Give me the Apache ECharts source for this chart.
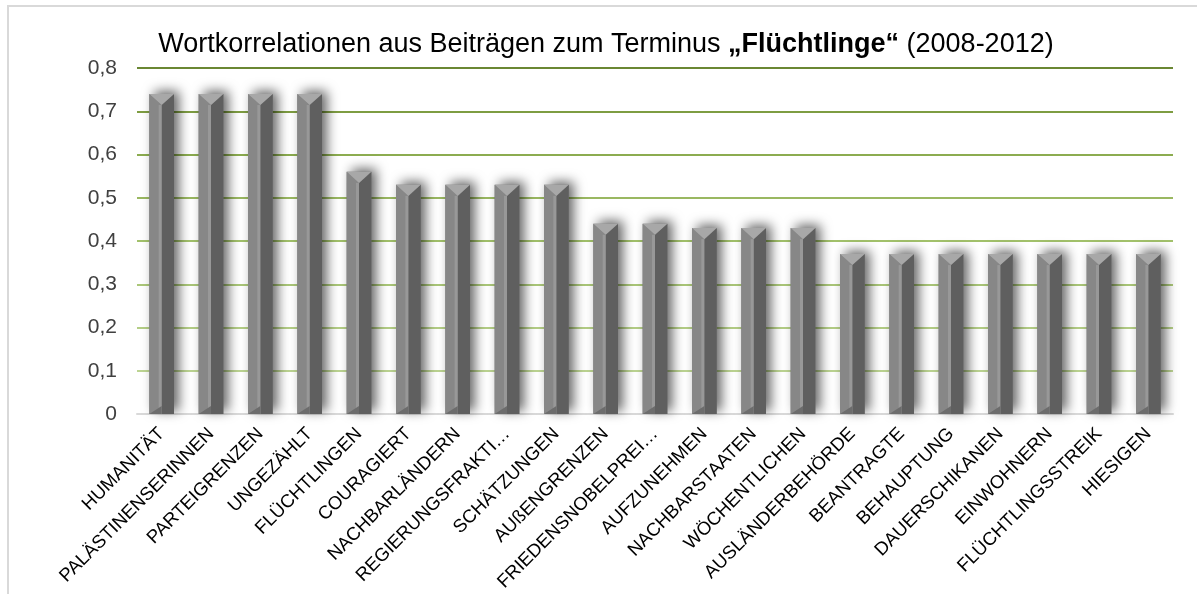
<!DOCTYPE html>
<html>
<head>
<meta charset="utf-8">
<script src="https://cdn.jsdelivr.net/npm/echarts@6/dist/echarts.min.js"></script>
<style>
  html, body { margin: 0; padding: 0; background: #fff; }
  #main { width: 1197px; height: 594px; }
</style>
</head>
<body>
<div id="main"></div>
<script>
// Begriffe (Kategorien)
var categories = [
  'HUMANITÄT', 'PALÄSTINENSERINNEN', 'PARTEIGRENZEN', 'UNGEZÄHLT', 'FLÜCHTLINGEN',
  'COURAGIERT', 'NACHBARLÄNDERN', 'REGIERUNGSFRAKTI…', 'SCHÄTZUNGEN', 'AUßENGRENZEN',
  'FRIEDENSNOBELPREI…', 'AUFZUNEHMEN', 'NACHBARSTAATEN', 'WÖCHENTLICHEN', 'AUSLÄNDERBEHÖRDE',
  'BEANTRAGTE', 'BEHAUPTUNG', 'DAUERSCHIKANEN', 'EINWOHNERN', 'FLÜCHTLINGSSTREIK', 'HIESIGEN'
];
// Korrelationswerte
var values = [
  0.74, 0.74, 0.74, 0.74, 0.56,
  0.53, 0.53, 0.53, 0.53, 0.44,
  0.44, 0.43, 0.43, 0.43, 0.37,
  0.37, 0.37, 0.37, 0.37, 0.37, 0.37
];
var yTicks = [0, 0.1, 0.2, 0.3, 0.4, 0.5, 0.6, 0.7, 0.8];

var chart = echarts.init(document.getElementById('main'));

// Balken im Stil "abgeschrägt" zeichnen
function renderBar(params, api) {
  var top = api.coord([api.value(0), api.value(1)]);
  var base = api.coord([api.value(0), 0]);
  var w = api.size([1, 0])[0] * 0.5;
  var cx = top[0], x0 = cx - w / 2, x1 = cx + w / 2;
  var yt = top[1], yb = base[1];
  var cap = w * 0.45;
  return {
    type: 'group',
    children: [
      { type: 'rect', shape: { x: x0, y: yt, width: w, height: yb - yt },
        style: { fill: '#777', shadowBlur: 12, shadowColor: 'rgba(0,0,0,0.6)', shadowOffsetX: 5, shadowOffsetY: -3 } },
      { type: 'polygon', shape: { points: [[x0, yt], [cx, yt + cap], [cx, yb], [x0, yb]] }, style: { fill: '#878787' } },
      { type: 'polygon', shape: { points: [[cx, yt + cap], [x1, yt], [x1, yb], [cx, yb]] }, style: { fill: '#5f5f5f' } },
      { type: 'rect', shape: { x: cx - 3, y: yt + cap, width: 3, height: yb - yt - cap }, style: { fill: '#989898' } },
      { type: 'polygon', shape: { points: [[x0, yb], [cx, yb - 8], [cx, yb]] }, style: { fill: '#6c6c6c' } },
      { type: 'polygon', shape: { points: [[x0, yt], [x1, yt], [cx, yt + cap]] }, style: { fill: '#a8a8a8' } }
    ]
  };
}

chart.setOption({
  animation: false,
  textStyle: { fontFamily: 'Liberation Sans, Arial, sans-serif' },
  graphic: [
    { type: 'rect', shape: { x: 8, y: 6, width: 1300, height: 700 },
      style: { fill: 'none', stroke: '#d9d9d9', lineWidth: 2 }, silent: true },
    { type: 'text', x: 606, y: 45,
      style: {
        text: '{n|Wortkorrelationen aus Beiträgen zum Terminus }{b|„Flüchtlinge“}{n| (2008-2012)}',
        align: 'center', verticalAlign: 'middle',
        rich: {
          n: { fontSize: 27, fontFamily: 'Liberation Sans', fill: '#000' },
          b: { fontSize: 27, fontFamily: 'Liberation Sans', fontWeight: 'bold', fill: '#000' }
        }
      } }
  ],
  grid: { left: 137, right: 24, top: 68, bottom: 180, containLabel: false, outerBoundsMode: 'none' },
  xAxis: {
    type: 'category',
    data: categories,
    axisLine: { lineStyle: { color: '#d9d9d9', width: 2 } },
    axisTick: { show: false },
    axisLabel: { rotate: 45, interval: 0, fontSize: 18.5, color: '#000', margin: 17 }
  },
  yAxis: {
    type: 'value',
    min: yTicks[0],
    max: yTicks[yTicks.length - 1],
    interval: 0.1,
    axisLine: { show: false },
    axisTick: { show: false },
    axisLabel: {
      fontSize: 21, color: '#404040', margin: 20,
      formatter: function (v) { return String(Math.round(v * 10) / 10).replace('.', ','); }
    },
    splitLine: {
      lineStyle: {
        width: 2,
        color: ['#d9d9d9', '#bcd492', '#b4ce86', '#abc779', '#a2c16b', '#9ab861', '#8cac50', '#7e9d42', '#6a8733']
      }
    }
  },
  series: [{
    type: 'custom',
    renderItem: renderBar,
    encode: { x: 0, y: 1 },
    data: values.map(function (v, i) { return [i, v]; })
  }]
});
</script>
</body>
</html>
